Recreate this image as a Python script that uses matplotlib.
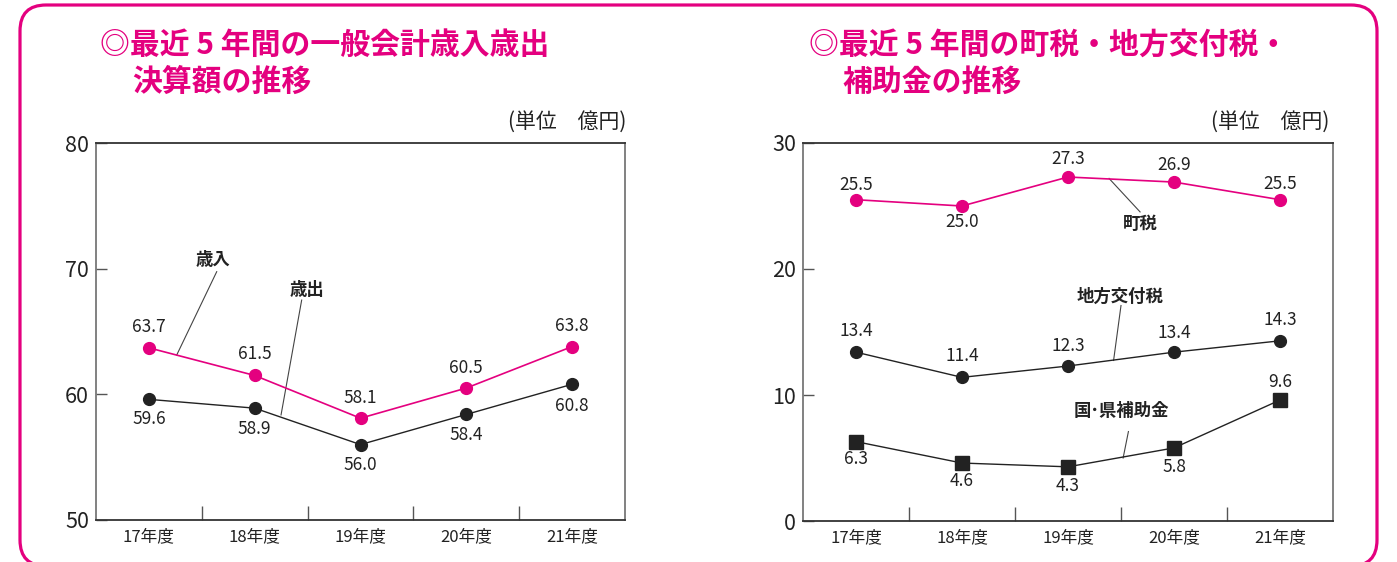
import matplotlib
matplotlib.use('Agg')
import matplotlib.pyplot as plt
from matplotlib.patches import FancyBboxPatch
from matplotlib.transforms import IdentityTransform

# ---------------- data ----------------
years = ['17年度', '18年度', '19年度', '20年度', '21年度']
revenue = [63.7, 61.5, 58.1, 60.5, 63.8]          # 歳入
expenditure = [59.6, 58.9, 56.0, 58.4, 60.8]      # 歳出
town_tax = [25.5, 25.0, 27.3, 26.9, 25.5]         # 町税
local_alloc_tax = [13.4, 11.4, 12.3, 13.4, 14.3]  # 地方交付税
subsidies = [6.3, 4.6, 4.3, 5.8, 9.6]             # 国・県補助金
left_yticks = [50, 60, 70, 80]
right_yticks = [0, 10, 20, 30]

PINK = '#E4007F'
DARK = '#222222'
plt.rcParams['font.family'] = ['Noto Sans CJK JP', 'DejaVu Sans']

W, H = 1397, 562
fig = plt.figure(figsize=(W / 100, H / 100), dpi=100)


def fx(px):
    return px / W


def fy(py):
    return 1 - py / H


# outer rounded pink border (pixel coordinates)
border = FancyBboxPatch((20, H - 566), 1357, 561,
                        boxstyle='round,pad=0,rounding_size=26',
                        transform=IdentityTransform(), fill=False,
                        edgecolor=PINK, linewidth=2.3, clip_on=False)
fig.patches.append(border)

ax1 = fig.add_axes([fx(96), fy(520), (625 - 96) / W, (520 - 143) / H])
ax2 = fig.add_axes([fx(803), fy(521), (1333 - 803) / W, (521 - 143) / H])

x = list(range(len(years)))


def style_axes(ax, yticks):
    ax.set_xlim(-0.5, len(years) - 0.5)
    ax.set_ylim(yticks[0], yticks[-1])
    ax.set_yticks(yticks)
    ax.set_yticklabels([str(t) for t in yticks], fontsize=15.5, color=DARK)
    ax.set_xticks(x)
    ax.set_xticklabels(years, fontsize=12, color=DARK)
    ax.set_xticks([i + 0.5 for i in x[:-1]], minor=True)
    ax.tick_params(axis='x', which='major', length=0, pad=6)
    ax.tick_params(axis='x', which='minor', direction='in', length=10,
                   color='#555555', width=1)
    ax.tick_params(axis='y', which='major', direction='in', length=8,
                   color='#555555', width=1, pad=5)
    for s in ['left', 'right']:
        ax.spines[s].set_color('#777777')
        ax.spines[s].set_linewidth(1.3)
    for s in ['top', 'bottom']:
        ax.spines[s].set_color('#333333')
        ax.spines[s].set_linewidth(1.3)


style_axes(ax1, left_yticks)
style_axes(ax2, right_yticks)


def label_points(ax, vals, offsets):
    for i, (v, off) in enumerate(zip(vals, offsets)):
        ax.annotate(f'{v:.1f}', (i, v), xytext=(0, off), textcoords='offset pixels',
                    ha='center', va='center', fontsize=12.5, color=DARK)


# ---------------- left chart ----------------
ax1.plot(x, revenue, color=PINK, lw=1.2, marker='o', ms=8.5, zorder=3)
ax1.plot(x, expenditure, color=DARK, lw=1.0, marker='o', ms=8.5, zorder=3)
label_points(ax1, revenue, [21, 21, 20, 20, 21])
label_points(ax1, expenditure, [-20, -21, -20, -21, -22])

ax1.plot([0.641, 0.263], [69.76, 63.13], color='#444444', lw=0.8)
ax1.text(0.606, 70.69, '歳入', ha='center', va='center', fontsize=12.5,
         fontweight='bold', color=DARK)
ax1.plot([1.444, 1.249], [67.5, 58.36], color='#444444', lw=0.8)
ax1.text(1.494, 68.3, '歳出', ha='center', va='center', fontsize=12.5,
         fontweight='bold', color=DARK)

# ---------------- right chart ----------------
ax2.plot(x, town_tax, color=PINK, lw=1.2, marker='o', ms=8.5, zorder=3)
ax2.plot(x, local_alloc_tax, color=DARK, lw=1.0, marker='o', ms=8.5, zorder=3)
ax2.plot(x, subsidies, color=DARK, lw=1.0, marker='s', ms=9.5, zorder=3)
label_points(ax2, town_tax, [15, -16, 18, 17, 16])
label_points(ax2, local_alloc_tax, [21, 21, 20, 19, 21])
label_points(ax2, subsidies, [-17, -18, -19, -19, 18])

ax2.plot([2.387, 2.68], [27.19, 24.53], color='#444444', lw=0.8)
ax2.text(2.68, 23.56, '町税', ha='center', va='center', fontsize=12.5,
         fontweight='bold', color=DARK)
ax2.plot([2.50, 2.43], [17.1, 12.74], color='#444444', lw=0.8)
ax2.text(2.49, 17.83, '地方交付税', ha='center', va='center', fontsize=12.5,
         fontweight='bold', color=DARK)
ax2.plot([2.57, 2.52], [7.1, 5.0], color='#444444', lw=0.8)
ax2.text(2.50, 8.76, '国･県補助金', ha='center', va='center', fontsize=12.5,
         fontweight='bold', color=DARK)

# ---------------- titles ----------------
tkw = dict(fontsize=21.5, fontweight='bold', color=PINK, va='center', ha='left')
fig.text(fx(100), fy(45), '◎最近 5 年間の一般会計歳入歳出', **tkw)
fig.text(fx(132), fy(82), '決算額の推移', **tkw)
fig.text(fx(809), fy(45), '◎最近 5 年間の町税・地方交付税・', **tkw)
fig.text(fx(842), fy(82), '補助金の推移', **tkw)

ukw = dict(fontsize=15, color=DARK, va='center', ha='right')
fig.text(fx(626), fy(122), '(単位　億円)', **ukw)
fig.text(fx(1329), fy(122), '(単位　億円)', **ukw)

fig.savefig('out.png', dpi=100)
